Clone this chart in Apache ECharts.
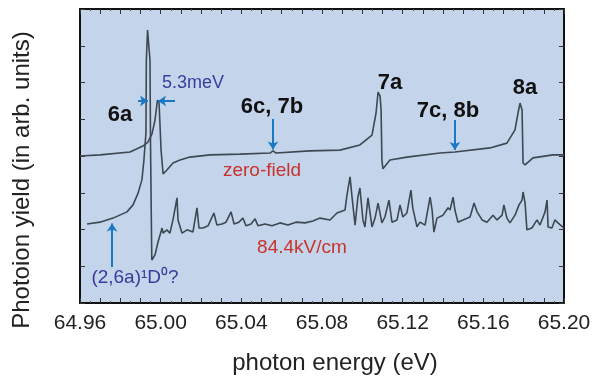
<!DOCTYPE html>
<html>
<head>
<meta charset="utf-8">
<script src="https://cdn.jsdelivr.net/npm/echarts@6/dist/echarts.min.js"></script>
<style>
  html, body { margin: 0; padding: 0; background: #fff; }
  #chart { width: 594px; height: 380px; }
</style>
</head>
<body>
<div id="chart"></div>
<script>
// zero-field spectrum (photon energy eV / yield arb.)
const zeroE = [64.960, 64.970, 64.9848, 64.9912, 64.9937, 64.9957, 64.9972, 64.9984, 64.9992, 65.0002,
  65.0012, 65.0031, 65.0061, 65.0096, 65.0145, 65.0245, 65.0393, 65.0542, 65.0557, 65.0572,
  65.0740, 65.0889, 65.0988, 65.1048, 65.1068, 65.1078, 65.1088, 65.1093, 65.1097, 65.1102,
  65.1137, 65.1221, 65.1385, 65.1459, 65.1633, 65.1717, 65.1757, 65.1772, 65.1782, 65.1792,
  65.1797, 65.1807, 65.1846, 65.1945, 65.2000]
const zeroY = [4.00, 4.03, 4.11, 4.27, 4.38, 4.60, 4.98, 5.52, 5.44, 4.16,
  3.51, 3.62, 3.81, 3.89, 3.97, 4.03, 4.05, 4.08, 4.14, 4.08,
  4.14, 4.16, 4.30, 4.57, 5.17, 5.74, 5.63, 5.25, 3.89, 3.65,
  3.89, 3.97, 4.08, 4.11, 4.22, 4.35, 4.71, 5.17, 5.44, 5.25,
  3.81, 3.76, 3.95, 4.03, 4.03]

// 84.4 kV/cm spectrum
const fieldE = [64.9635, 64.9699, 64.9764, 64.9833, 64.9863, 64.9888, 64.9907, 64.9917, 64.9927, 64.9929,
  64.9935, 64.9942, 64.9947, 64.9950, 64.9956, 64.9962, 64.9972, 64.9987, 65.0007, 65.0012,
  65.0031, 65.0046, 65.0061, 65.0081, 65.0086, 65.0106, 65.0131, 65.0160, 65.0180, 65.0190,
  65.0210, 65.0235, 65.0264, 65.0279, 65.0304, 65.0324, 65.0349, 65.0364, 65.0388, 65.0408,
  65.0423, 65.0448, 65.0468, 65.0483, 65.0517, 65.0552, 65.0592, 65.0631, 65.0671, 65.0716,
  65.0755, 65.0790, 65.0840, 65.0874, 65.0914, 65.0924, 65.0939, 65.0949, 65.0964, 65.0978,
  65.0988, 65.1003, 65.1013, 65.1028, 65.1048, 65.1063, 65.1078, 65.1097, 65.1112, 65.1132,
  65.1147, 65.1172, 65.1187, 65.1201, 65.1221, 65.1241, 65.1250, 65.1271, 65.1286, 65.1311,
  65.1336, 65.1346, 65.1355, 65.1370, 65.1400, 65.1425, 65.1435, 65.1450, 65.1459, 65.1474,
  65.1499, 65.1534, 65.1554, 65.1569, 65.1594, 65.1618, 65.1648, 65.1668, 65.1693, 65.1702,
  65.1717, 65.1732, 65.1757, 65.1777, 65.1792, 65.1797, 65.1807, 65.1816, 65.1841, 65.1866,
  65.1881, 65.1906, 65.1916, 65.1921, 65.1940, 65.1955, 65.1970, 65.2000]
const fieldY = [2.15, 2.20, 2.31, 2.48, 2.67, 2.99, 3.35, 3.89, 4.63, 6.61,
  7.43, 7.43, 6.61, 4.16, 1.17, 1.22, 1.31, 1.66, 2.04, 1.90,
  1.99, 1.90, 2.26, 2.86, 2.26, 1.90, 1.99, 1.93, 2.59, 2.04,
  2.04, 2.10, 2.45, 2.12, 2.15, 2.20, 2.48, 2.15, 2.20, 2.31,
  2.10, 2.15, 2.29, 2.10, 2.15, 2.10, 2.18, 2.12, 2.20, 2.18,
  2.23, 2.31, 2.26, 2.45, 2.53, 2.94, 3.43, 2.88, 2.12, 2.88,
  3.13, 2.26, 2.07, 2.86, 2.07, 2.31, 2.72, 2.18, 2.34, 2.80,
  2.20, 2.26, 2.67, 2.34, 2.45, 3.07, 2.59, 2.07, 2.20, 2.12,
  2.88, 2.53, 1.93, 2.31, 2.39, 2.59, 2.53, 2.88, 2.53, 2.20,
  2.26, 2.34, 2.72, 2.48, 2.26, 2.20, 2.39, 2.26, 2.39, 2.67,
  2.31, 2.18, 2.39, 2.67, 2.80, 3.02, 2.72, 1.99, 2.04, 2.26,
  2.12, 2.48, 2.80, 2.07, 2.04, 2.26, 2.18, 2.04]

// annotation arrows [fromE, fromY, toE, toY]
const arrows = [
  [64.9888, 5.50, 64.9937, 5.50],
  [65.0071, 5.50, 64.9987, 5.50],
  [65.0557, 5.01, 65.0557, 4.18],
  [65.1459, 4.98, 65.1459, 4.16],
  [64.9759, 0.98, 64.9759, 2.16]
]

const chart = echarts.init(document.getElementById('chart'))
const font = 'Liberation Sans, Arial, sans-serif'
const lineColor = '#3d4852'

const pairs = (xs, ys) => xs.map((x, i) => [x, ys[i]])

const xBase = {
  type: 'value',
  min: 64.96,
  max: 65.20,
  interval: 0.01,
  axisLine: { show: true, onZero: false, lineStyle: { color: '#111', width: 2 } },
  axisTick: { show: true, inside: true, length: 5, lineStyle: { color: '#333', width: 1 } },
  minorTick: { show: true, splitNumber: 2, length: 2, lineStyle: { color: '#555' } },
  splitLine: { show: false }
}
const yBase = {
  type: 'value',
  min: 0,
  max: 8,
  interval: 1,
  axisLine: { show: true, onZero: false, lineStyle: { color: '#111', width: 2 } },
  axisTick: { show: true, inside: true, length: 5, lineStyle: { color: '#333', width: 1 } },
  axisLabel: { show: false },
  splitLine: { show: false }
}

const txt = (x, y, s, size, color, weight) => ({
  type: 'text', x: x, y: y, z: 100,
  style: { text: s, font: (weight || 'normal') + ' ' + size + 'px ' + font, fill: color, align: 'center', verticalAlign: 'middle' }
})

const option = {
  animation: false,
  grid: { left: 80, right: 30, top: 9, bottom: 77, show: true, backgroundColor: '#c4d4ea', borderWidth: 0 },
  xAxis: [
    Object.assign({}, xBase, {
      position: 'bottom',
      axisLabel: {
        show: true, margin: 10, color: '#222', fontSize: 21, fontFamily: font,
        formatter: v => (Math.round((v - 64.96) * 100) % 4 === 0 ? v.toFixed(2) : '')
      }
    }),
    Object.assign({}, xBase, { position: 'top', axisLabel: { show: false } })
  ],
  yAxis: [
    Object.assign({}, yBase, { position: 'left' }),
    Object.assign({}, yBase, { position: 'right' })
  ],
  series: [
    {
      name: 'zero-field',
      type: 'line',
      showSymbol: false,
      data: pairs(zeroE, zeroY),
      lineStyle: { color: lineColor, width: 1.6 },
      markLine: {
        silent: true,
        symbol: ['none', 'arrow'],
        symbolSize: 8,
        label: { show: false },
        lineStyle: { color: '#1a78c4', width: 2, type: 'solid' },
        data: arrows.map(a => [{ coord: [a[0], a[1]] }, { coord: [a[2], a[3]] }])
      }
    },
    {
      name: '84.4kV/cm',
      type: 'line',
      showSymbol: false,
      data: pairs(fieldE, fieldY),
      lineStyle: { color: lineColor, width: 1.6 }
    }
  ],
  graphic: [
    txt(120, 115, '6a', 22, '#111', 'bold'),
    txt(193, 83, '5.3meV', 18, '#3b3b9c'),
    txt(272, 107, '6c, 7b', 22, '#111', 'bold'),
    txt(390, 83, '7a', 22, '#111', 'bold'),
    txt(448, 111, '7c, 8b', 22, '#111', 'bold'),
    txt(525, 88, '8a', 22, '#111', 'bold'),
    txt(262, 171, 'zero-field', 19, '#c8332b'),
    txt(302, 248, '84.4kV/cm', 19, '#c8332b'),
    txt(135, 278, '(2,6a)¹D⁰?', 19, '#3b3b9c'),
    txt(335, 363, 'photon energy (eV)', 24, '#222'),
    {
      type: 'text', x: 22, y: 180, rotation: Math.PI / 2, z: 100,
      style: { text: 'Photoion yield (in arb. units)', font: 'normal 24px ' + font, fill: '#222', align: 'center', verticalAlign: 'middle' }
    }
  ]
}

chart.setOption(option)
</script>
</body>
</html>
